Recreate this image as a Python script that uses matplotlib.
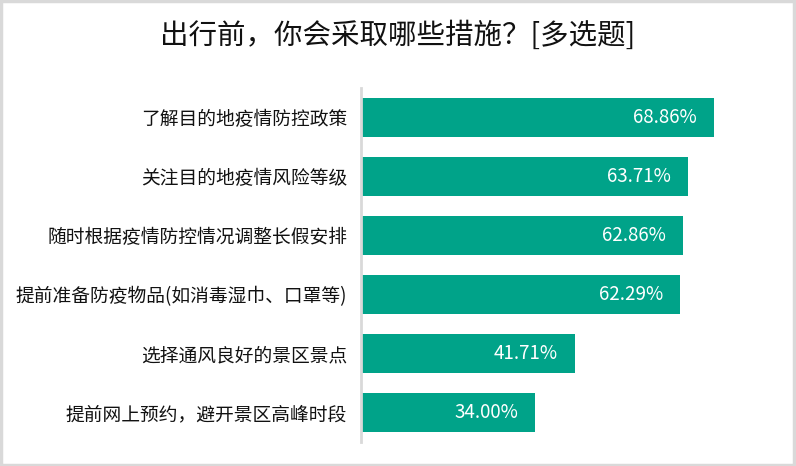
import matplotlib
matplotlib.use("Agg")
import matplotlib.pyplot as plt
from matplotlib.patches import Rectangle

plt.rcParams['font.family'] = ['Noto Sans CJK SC', 'DejaVu Sans']

categories = [
    "了解目的地疫情防控政策",
    "关注目的地疫情风险等级",
    "随时根据疫情防控情况调整长假安排",
    "提前准备防疫物品(如消毒湿巾、口罩等)",
    "选择通风良好的景区景点",
    "提前网上预约，避开景区高峰时段",
]
values = [68.86, 63.71, 62.86, 62.29, 41.71, 34.00]

W, H = 796, 466
fig = plt.figure(figsize=(W / 100, H / 100), dpi=100)
fig.patches.append(Rectangle((0.001, 0.002), 0.997, 0.995, transform=fig.transFigure,
                             fill=False, edgecolor='#D9D9D9', linewidth=2.5))

left, right = 361, 771
top, bottom = 88, 442
ax = fig.add_axes([left / W, 1 - bottom / H, (right - left) / W, (bottom - top) / H])

ypos = list(range(len(categories)))
ax.barh(ypos, values, height=0.656, color='#00A389', left=0)
ax.set_xlim(0, 80)
ax.set_ylim(len(categories) - 0.5, -0.5)

for y, v in zip(ypos, values):
    ax.text(v - 3.3, y, f"{v:.2f}%", color='white', ha='right', va='center', fontsize=13.5)

ax.set_yticks(ypos)
ax.set_yticklabels(categories, fontsize=13.5, color='#111111')
ax.tick_params(axis='y', length=0, pad=10)
ax.set_xticks([])
for s in ['top', 'right', 'bottom']:
    ax.spines[s].set_visible(False)
ax.spines['left'].set_color('#D9D9D9')
ax.spines['left'].set_linewidth(2)

fig.text(0.5, 1 - 36 / H, "出行前，你会采取哪些措施？[多选题]", ha='center', va='center',
         fontsize=20.5, color='#111111')

fig.savefig("out.png", dpi=100)
